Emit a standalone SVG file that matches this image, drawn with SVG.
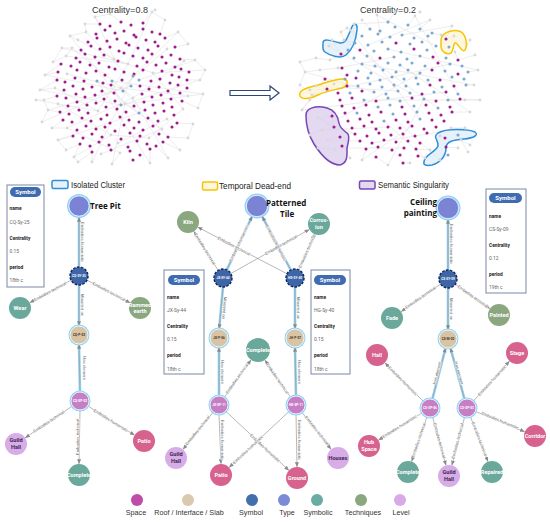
<svg xmlns="http://www.w3.org/2000/svg" width="550" height="522" viewBox="0 0 550 522">
<defs>
<style>
.ttl{font-family:"Liberation Sans",Arial,sans-serif;font-size:9px;fill:#333;text-anchor:middle}
.gl{stroke:#e0e0e0;stroke-width:.6;fill:none}
.dm{stroke:#a01c8c;stroke-width:3.1;stroke-linecap:round;fill:none}
.dg{stroke:#d8d8d8;stroke-width:2.8;stroke-linecap:round;fill:none}
.db{stroke:#7ea8d4;stroke-width:3.1;stroke-linecap:round;fill:none}
.bb{fill:#d6e7f6;fill-opacity:.6;stroke:#2f8fd8;stroke-width:1.5}
.by{fill:#fdf2cc;fill-opacity:.6;stroke:#f7c400;stroke-width:1.5}
.bp{fill:#dccfed;fill-opacity:.8;stroke:#7a45b5;stroke-width:1.5}
.lg{font-family:"Liberation Sans",Arial,sans-serif;font-size:8.5px;fill:#222}
.e{stroke:#9a9a9a;stroke-width:.7;fill:none;marker-end:url(#ah)}
.hl{stroke:#92d2f3;stroke-width:2.6;fill:none}
.el{font-family:"Liberation Sans",Arial,sans-serif;font-size:4.2px;fill:#666;text-anchor:middle;paint-order:stroke;stroke:#fff;stroke-width:.8}
.ring{fill:#8fd3f5}
.nt{font-family:Roboto,"Liberation Sans",sans-serif;font-weight:bold;font-size:5.6px;fill:#fff;text-anchor:middle}
.ntd{font-family:Roboto,"Liberation Sans",sans-serif;font-weight:bold;font-size:5.6px;fill:#3a2a48;text-anchor:middle}
.id{font-family:Roboto,"Liberation Sans",sans-serif;font-weight:bold;font-size:3.1px;fill:#fff;text-anchor:middle}
.idd{font-family:Roboto,"Liberation Sans",sans-serif;font-weight:bold;font-size:3.1px;fill:#3a3020;text-anchor:middle}
.big{font-family:"Open Sans","Liberation Sans",sans-serif;font-weight:bold;font-size:8px;fill:#111}
.type{fill:#7b84d4;stroke:#fff;stroke-width:.8}
.sym{fill:#3d65a8;stroke:#10255a;stroke-width:1.4;stroke-dasharray:2.6 1.4}
.roof{fill:#d8c3a4;stroke:#fff;stroke-width:.8}
.sp{fill:#c67fc4;stroke:#fff;stroke-width:.8}
.pink{fill:#d6628d}
.teal{fill:#6aa89b}
.grn{fill:#8aa77f}
.lav{fill:#d8abe9}
.ib{fill:#fff;stroke:#7b87a6;stroke-width:1}
.pill{fill:#3f6cb1}
.pt{font-family:Roboto,"Liberation Sans",sans-serif;font-size:6px;font-weight:bold;fill:#fff;text-anchor:middle}
.ik{font-family:Roboto,"Liberation Sans",sans-serif;font-size:4.8px;font-weight:bold;fill:#222}
.iv{font-family:Roboto,"Liberation Sans",sans-serif;font-size:4.9px;fill:#666}
.bl{font-family:"Liberation Sans",Arial,sans-serif;font-size:7.2px;fill:#333;text-anchor:middle}
</style>
<marker id="ah" viewBox="0 0 6 5" refX="6" refY="2.5" markerWidth="5" markerHeight="4" markerUnits="userSpaceOnUse" orient="auto"><path d="M0,0L6,2.5L0,5z" fill="#8a8a8a"/></marker>
</defs>
<rect width="550" height="522" fill="#fff"/>

<g id="scatter-left">
<text class="ttl" x="120" y="13">Centrality=0.8</text>
<path class="gl" d="M40 90L57 80M40 90L55 88M45 75L61 64M45 75L58 72M48 110L60 112M48 110L44 100M52 128L67 128M52 128L63 120M58 140L73 136M58 140L66 150M62 48L72 48M62 48L53 62M53 62L66 56M66 150L80 144M70 36L86 32M70 36L78 40M78 162L92 152M78 162L74 157M85 24L100 24M85 24L86 32M95 17L110 14M95 17L100 24M110 14L121 22M152 12L143 23M152 12L165 20M165 20L160 34M178 32L165 38M178 32L188 44M188 44L175 47M195 60L180 59M195 60L205 70M200 80L187 80M200 80L205 70M203 94L188 96M198 108L182 101M198 108L203 94M193 124L177 123M188 138L168 137M188 138L193 124M180 150L163 142M168 158L156 146M150 163L150 149M112 164L120 153M92 162L92 152M74 157L80 144M44 100L57 96M42 122L48 110M36 100L44 100M86 32L124 72M72 48L134 98M167 49L121 88M66 56L128 64M114 59L153 73M184 61L133 98M67 74L121 88M55 88L98 111M188 96L125 104M58 104L111 135M183 109L149 138M167 119L118 143M162 129L101 154M67 128L120 153M128 64L98 111M153 73L183 109M78 40L114 59M121 88L188 96M133 98L67 128M125 104L162 129M111 135L149 138M72 48L66 56M97 81L139 113M112 81L121 105M133 76L123 91M62 48L128 64M36 100L98 111M205 70L153 73M95 17L114 59M152 12L128 64M112 164L125 104M168 158L133 98M42 122L121 88M200 80L121 105M74 157L111 135M178 32L133 76M40 90L121 105M45 75L123 91M48 110L131 86M203 94L112 81M195 60L139 80M92 162L133 76M150 163L97 81M58 140L139 113M180 150L121 88M70 36L125 104"/>
<path class="dg" d="M86 32h0M78 40h0M72 48h0M167 49h0M66 56h0M114 59h0M184 61h0M128 64h0M67 74h0M153 73h0M55 88h0M121 88h0M188 96h0M133 98h0M58 104h0M125 104h0M183 109h0M98 111h0M167 119h0M162 129h0M67 128h0M111 135h0M149 138h0M118 143h0M120 153h0M101 154h0M40 90h0M45 75h0M48 110h0M52 128h0M58 140h0M62 48h0M66 150h0M70 36h0M78 162h0M85 24h0M95 17h0M110 14h0M152 12h0M165 20h0M178 32h0M188 44h0M195 60h0M200 80h0M203 94h0M198 108h0M193 124h0M188 138h0M180 150h0M168 158h0M150 163h0M112 164h0M92 162h0M74 157h0M44 100h0M42 122h0M53 62h0M36 100h0M205 70h0M155 10h0"/>
<path class="dm" d="M100 24h0M110 26h0M121 22h0M131 25h0M143 23h0M96 34h0M105 30h0M115 33h0M124 31h0M134 35h0M143 29h0M152 32h0M160 34h0M88 42h0M97 38h0M107 41h0M117 39h0M126 43h0M136 37h0M146 40h0M155 42h0M165 38h0M81 50h0M91 46h0M100 49h0M110 47h0M119 51h0M129 45h0M138 48h0M148 50h0M158 46h0M175 47h0M76 58h0M85 54h0M95 57h0M104 55h0M124 53h0M133 56h0M143 58h0M152 54h0M162 57h0M171 55h0M180 59h0M61 64h0M71 66h0M80 62h0M90 65h0M99 63h0M109 67h0M118 61h0M137 66h0M147 62h0M156 65h0M166 63h0M175 67h0M58 72h0M77 70h0M86 73h0M96 71h0M105 75h0M115 69h0M124 72h0M134 74h0M143 70h0M162 71h0M172 75h0M181 69h0M189 72h0M57 80h0M65 82h0M75 78h0M84 81h0M103 83h0M122 80h0M151 81h0M160 79h0M170 83h0M179 77h0M187 80h0M64 90h0M73 86h0M83 89h0M92 87h0M102 91h0M111 85h0M140 86h0M149 89h0M159 87h0M168 91h0M178 85h0M187 88h0M57 96h0M66 98h0M76 94h0M85 97h0M95 95h0M104 99h0M114 93h0M142 94h0M152 97h0M161 95h0M171 99h0M180 93h0M68 106h0M77 102h0M87 105h0M96 103h0M106 107h0M115 101h0M134 106h0M144 102h0M153 105h0M163 103h0M172 107h0M182 101h0M60 112h0M69 114h0M79 110h0M88 113h0M107 115h0M117 109h0M126 112h0M145 110h0M155 113h0M164 111h0M174 115h0M63 120h0M72 122h0M82 118h0M91 121h0M101 119h0M110 123h0M120 117h0M129 120h0M139 122h0M148 118h0M158 121h0M177 123h0M77 130h0M86 126h0M96 129h0M105 127h0M115 131h0M124 125h0M134 128h0M143 130h0M153 126h0M172 127h0M73 136h0M83 138h0M92 134h0M102 137h0M121 139h0M130 133h0M140 136h0M159 134h0M168 137h0M80 144h0M90 146h0M99 142h0M109 145h0M128 147h0M137 141h0M147 144h0M156 146h0M163 142h0M92 152h0M111 150h0M130 151h0M140 155h0M150 149h0M133 160h0"/>
<path class="db" d="M97 81h0M112 81h0M133 76h0M139 80h0M123 91h0M131 86h0M121 105h0M139 113h0"/>
</g>

<g id="transition-arrow">
<path d="M230 90.5L270 90.5L270 86L279 93L270 100L270 95.5L230 95.5Z" fill="#fff" stroke="#2c4776" stroke-width="1.2"/>
</g>

<g id="scatter-right">
<text class="ttl" x="388" y="13">Centrality=0.2</text>
<path class="gl" d="M300 62L316 58M300 62L305 72M305 72L320 70M312 95L300 85M312 95L327 89M316 58L330 60M322 130L310 135M322 130L334 127M330 60L341 54M344 40L355 43M344 40L341 32M350 30L362 36M350 30L354 24M362 20L370 29M377 15L380 31M395 12L388 22M415 16L408 25M430 20L420 29M452 26L446 39M470 40L466 48M475 55L458 60M478 70L468 72M474 85L466 85M480 100L460 99M470 112L452 112M465 128L451 128M458 148L446 147M440 160L448 155M425 158L418 156M410 163L403 163M388 165L376 157M362 160L366 149M350 158L342 146M318 148L335 150M310 135L318 148M302 110L310 100M302 110L312 95M300 85L305 72M320 70L338 68M338 68L342 68M329 46L344 40M310 100L325 79M465 100L448 100M461 140L458 135M430 150L416 149M470 145L461 140M455 52L458 60M441 35L432 33M354 24L388 22M338 68L394 57M316 86L398 91M329 46L410 93M305 72L374 92M322 130L388 127M318 148L404 148M362 160L412 126M388 165L424 99M425 158L384 121M470 112L400 65M474 85L362 64M478 70L388 49M452 26L402 35M430 20L368 45M415 16L458 94M377 15L436 46M350 30L420 119M344 40L438 108M312 95L450 64M302 110L446 92M480 100L364 100M465 128L372 143M440 160L396 120M310 135L420 73M318 118L332 116M318 118L334 127M328 140L340 137M328 140L342 146M318 118L355 134M328 140L360 141M310 90L327 89M334 84L325 79M332 40L341 54M347 28L341 32M454 36L446 39M468 152L458 135M440 136L445 138"/>
<path class="bb" d="M323 44C322 38 330 40 340 43C346 44 348 36 351 29C353 23 358 22 357 30C356 40 352 50 346 55C341 59 330 56 325 52C322 50 323 47 323 44Z"/>
<path class="by" d="M441 40C441 33 452 29 459 31C466 33 468 45 465 50C462 53 459 45 456 43C453 42 454 50 451 53C447 55 441 52 441 46Z"/>
<path class="by" d="M300 96C298 90 306 88 318 85C328 82 338 78 344 79C349 80 348 86 342 88C334 90 326 91 318 95C310 99 302 100 300 96Z"/>
<path class="bp" d="M306 116C305 108 316 105 327 108C335 110 338 117 339 123C340 129 345 131 348 134C350 138 348 143 347 148C347 155 348 163 340 165C330 165 321 155 314 144C308 134 306 124 306 116Z"/>
<path class="bb" d="M424 162C424 155 436 152 438 146C439 140 432 137 438 133C446 128 468 129 475 132C479 135 474 138 464 139C454 140 446 141 446 148C446 156 440 163 432 165C426 166 423 165 424 162Z"/>
<path class="dg" d="M300 62h0M305 72h0M312 95h0M316 58h0M322 130h0M330 60h0M344 40h0M350 30h0M362 20h0M377 15h0M395 12h0M415 16h0M430 20h0M452 26h0M470 40h0M475 55h0M478 70h0M474 85h0M480 100h0M470 112h0M465 128h0M458 148h0M440 160h0M425 158h0M410 163h0M388 165h0M362 160h0M350 158h0M318 148h0M310 135h0M302 110h0M320 70h0M338 68h0M354 24h0M341 32h0M329 46h0M441 35h0M455 52h0M465 100h0M461 140h0M430 150h0M310 100h0M316 86h0M335 150h0M300 85h0M470 145h0M451 128h0M332 40h0M347 28h0M454 36h0M310 90h0M334 84h0M318 118h0M328 140h0M468 152h0M440 136h0M420 12h0"/>
<path class="db" d="M388 22h0M408 25h0M370 29h0M380 31h0M395 27h0M420 29h0M432 33h0M362 36h0M378 34h0M390 37h0M402 35h0M414 38h0M428 36h0M355 43h0M368 45h0M382 42h0M410 44h0M422 42h0M436 46h0M449 47h0M348 50h0M374 51h0M388 49h0M401 52h0M427 50h0M354 58h0M367 56h0M394 57h0M407 59h0M420 56h0M446 58h0M362 64h0M375 66h0M388 63h0M400 65h0M412 63h0M425 66h0M450 64h0M462 66h0M358 71h0M371 73h0M383 70h0M396 72h0M408 70h0M420 73h0M445 71h0M468 72h0M345 79h0M368 78h0M380 80h0M392 77h0M404 79h0M416 78h0M428 80h0M452 77h0M464 79h0M358 86h0M370 84h0M382 87h0M394 85h0M406 86h0M418 84h0M442 87h0M466 85h0M350 93h0M374 92h0M386 94h0M398 91h0M410 93h0M434 92h0M458 94h0M364 100h0M388 98h0M400 101h0M424 99h0M448 100h0M378 107h0M390 105h0M414 106h0M438 108h0M357 113h0M393 114h0M417 112h0M384 121h0M420 119h0M458 135h0M448 155h0"/>
<path class="dm" d="M396 43h0M446 39h0M360 50h0M414 49h0M341 54h0M380 58h0M433 57h0M458 60h0M342 68h0M438 63h0M347 75h0M432 70h0M458 74h0M325 79h0M327 89h0M356 78h0M440 80h0M347 86h0M430 85h0M454 86h0M338 93h0M362 91h0M422 94h0M446 92h0M340 100h0M352 98h0M376 101h0M412 98h0M436 101h0M460 99h0M342 106h0M354 108h0M366 105h0M402 107h0M426 105h0M450 107h0M332 116h0M345 113h0M369 115h0M381 112h0M405 114h0M429 113h0M441 115h0M452 112h0M348 121h0M360 119h0M372 122h0M396 120h0M408 122h0M432 120h0M444 121h0M334 127h0M352 128h0M364 126h0M376 129h0M388 127h0M400 128h0M412 126h0M424 129h0M436 127h0M340 137h0M355 134h0M367 136h0M379 133h0M391 135h0M403 134h0M415 136h0M427 133h0M445 138h0M342 146h0M360 141h0M372 143h0M384 140h0M396 142h0M408 141h0M420 143h0M446 147h0M366 149h0M378 147h0M392 150h0M404 148h0M416 149h0M376 157h0M400 155h0M418 156h0M403 163h0"/>
</g>

<g id="pattern-legend">
<rect x="52" y="180.5" width="16" height="8" rx="1.5" class="bb"/>
<text class="lg" x="71" y="188" textLength="54" lengthAdjust="spacingAndGlyphs">Isolated Cluster</text>
<rect x="202.5" y="182" width="15" height="8" rx="1.5" class="by"/>
<text class="lg" x="219" y="189" textLength="72" lengthAdjust="spacingAndGlyphs">Temporal Dead-end</text>
<rect x="359.5" y="181" width="15.5" height="8" rx="1.5" class="bp"/>
<text class="lg" x="378" y="188" textLength="71" lengthAdjust="spacingAndGlyphs">Semantic Singularity</text>
</g>

<g id="connectors">
<line class="hl" x1="79" y1="266" x2="79" y2="218"/>
<line class="e" x1="79" y1="267" x2="79" y2="217"/>
<text class="el" transform="translate(82.5 242) rotate(90)" dy="1.5">Embodies humanistic</text>
<line class="e" x1="71" y1="280.3" x2="29.7" y2="302.7"/>
<text class="el" transform="translate(50 291.5) rotate(-28.5)" dy="1.5">Embodies technical</text>
<line class="e" x1="87" y1="280.2" x2="130.3" y2="302.9"/>
<text class="el" transform="translate(109 291.5) rotate(27.7)" dy="1.5">Embodies technical</text>
<line class="hl" x1="79" y1="285" x2="79" y2="325"/>
<line class="e" x1="79" y1="285" x2="79" y2="326"/>
<text class="el" transform="translate(82.5 305) rotate(90)" dy="1.5">Mounted on</text>
<line class="hl" x1="80" y1="392" x2="79" y2="345"/>
<line class="e" x1="80" y1="392" x2="79" y2="344"/>
<text class="el" transform="translate(84 368) rotate(90)" dy="1.5">Has element</text>
<line class="e" x1="72.5" y1="406" x2="25.1" y2="437.9"/>
<text class="el" transform="translate(48.8 421.5) rotate(-33.9)" dy="1.5">Embodies technical</text>
<line class="e" x1="80" y1="410" x2="79" y2="464"/>
<text class="el" transform="translate(77 437) rotate(-90)" dy="1.5">Embodies technical</text>
<line class="e" x1="87.6" y1="405.8" x2="134.7" y2="435.2"/>
<text class="el" transform="translate(111 420.5) rotate(32)" dy="1.5">Embodies humanistic</text>

<line class="hl" x1="226.8" y1="269.9" x2="252.3" y2="216"/>
<line class="e" x1="226.8" y1="269.9" x2="252.3" y2="216"/>
<text class="el" transform="translate(239 243) rotate(-64.7)" dy="1.5">Embodies humanistic</text>
<line class="hl" x1="290.8" y1="270" x2="262.1" y2="216.3"/>
<line class="e" x1="290.8" y1="270" x2="262.1" y2="216.3"/>
<text class="el" transform="translate(276 243) rotate(62.2)" dy="1.5">Embodies humanistic</text>
<line class="e" x1="218.2" y1="270.4" x2="193.8" y2="231.3"/>
<text class="el" transform="translate(205 249) rotate(58)" dy="1.5">Embodies technical</text>
<line class="e" x1="298.7" y1="269.8" x2="314.5" y2="234"/>
<text class="el" transform="translate(307 251) rotate(-66)" dy="1.5">Embodies technical</text>
<line class="e" x1="230.8" y1="273.6" x2="309.4" y2="229.4"/>
<text class="el" transform="translate(281 245) rotate(-29.4)" dy="1.5">Embodies technical</text>
<line class="e" x1="287" y1="273.8" x2="197.7" y2="227.1"/>
<text class="el" transform="translate(234 246) rotate(27.6)" dy="1.5">Embodies technical</text>
<line class="hl" x1="223" y1="287" x2="219.2" y2="328"/>
<line class="e" x1="223" y1="287" x2="219.2" y2="329"/>
<text class="el" transform="translate(224.5 308) rotate(95)" dy="1.5">Mounted on</text>
<line class="hl" x1="295" y1="287" x2="295" y2="328"/>
<line class="e" x1="295" y1="287" x2="295" y2="329"/>
<text class="el" transform="translate(298.5 308) rotate(90)" dy="1.5">Mounted on</text>
<line class="hl" x1="219" y1="396" x2="219" y2="348"/>
<line class="e" x1="219" y1="396" x2="219" y2="347"/>
<text class="el" transform="translate(222.5 372) rotate(90)" dy="1.5">Has element</text>
<line class="hl" x1="296" y1="396" x2="295" y2="348"/>
<line class="e" x1="296" y1="396" x2="295" y2="347"/>
<text class="el" transform="translate(299 372) rotate(90)" dy="1.5">Has element</text>
<line class="e" x1="224.2" y1="397.7" x2="251.1" y2="359.8"/>
<text class="el" transform="translate(237 378.5) rotate(-54.7)" dy="1.5">Embodies technical</text>
<line class="e" x1="290.9" y1="397.6" x2="264.8" y2="359.9"/>
<text class="el" transform="translate(277.5 378.5) rotate(55.4)" dy="1.5">Embodies technical</text>
<line class="e" x1="213.3" y1="412" x2="182.9" y2="449.5"/>
<text class="el" transform="translate(197.5 430.5) rotate(-51)" dy="1.5">Embodies technical</text>
<line class="e" x1="219" y1="414" x2="221" y2="464"/>
<text class="el" transform="translate(222.5 440) rotate(90)" dy="1.5">Embodies humanistic</text>
<line class="e" x1="225.6" y1="411.1" x2="289" y2="470.5"/>
<text class="el" transform="translate(265 448) rotate(43)" dy="1.5">Embodies humanistic</text>
<line class="e" x1="289.4" y1="411.1" x2="229" y2="467.5"/>
<text class="el" transform="translate(248 449.5) rotate(-43)" dy="1.5">Embodies humanistic</text>
<line class="e" x1="296" y1="414" x2="297" y2="467"/>
<text class="el" transform="translate(299.5 440) rotate(90)" dy="1.5">Embodies humanistic</text>
<line class="e" x1="301.6" y1="412" x2="331.2" y2="449.4"/>
<text class="el" transform="translate(317 430.5) rotate(51.6)" dy="1.5">Embodies technical</text>

<line class="hl" x1="448" y1="270" x2="448" y2="220"/>
<line class="e" x1="448" y1="270" x2="448" y2="219"/>
<text class="el" transform="translate(451.5 244) rotate(90)" dy="1.5">Embodies humanistic</text>
<line class="e" x1="440.6" y1="284.1" x2="401" y2="311.7"/>
<text class="el" transform="translate(420.5 297.5) rotate(-34.9)" dy="1.5">Embodies technical</text>
<line class="e" x1="455.4" y1="284.2" x2="490" y2="308.7"/>
<text class="el" transform="translate(473 296.5) rotate(35.2)" dy="1.5">Embodies technical</text>
<line class="hl" x1="448" y1="288" x2="448" y2="329"/>
<line class="e" x1="448" y1="288" x2="448" y2="330"/>
<text class="el" transform="translate(451.5 309) rotate(90)" dy="1.5">Mounted on</text>
<line class="hl" x1="432.3" y1="399.3" x2="445.5" y2="348.5"/>
<line class="e" x1="432.3" y1="399.3" x2="445.7" y2="347.7"/>
<text class="el" transform="translate(437 373) rotate(-75.4)" dy="1.5">Has element</text>
<line class="hl" x1="464.6" y1="399.3" x2="450.6" y2="348.5"/>
<line class="e" x1="464.6" y1="399.3" x2="450.4" y2="347.7"/>
<text class="el" transform="translate(459 373) rotate(74.6)" dy="1.5">Has element</text>
<line class="e" x1="423.6" y1="401.6" x2="384.8" y2="362.8"/>
<text class="el" transform="translate(403 381) rotate(45)" dy="1.5">Embodies humanistic</text>
<line class="e" x1="422.4" y1="412.8" x2="378.3" y2="440.2"/>
<text class="el" transform="translate(399.5 426.5) rotate(-31.9)" dy="1.5">Embodies humanistic</text>
<line class="e" x1="427.1" y1="416.5" x2="411.6" y2="461.6"/>
<text class="el" transform="translate(418.5 440) rotate(-71)" dy="1.5">Embodies technical</text>
<line class="e" x1="432.4" y1="416.7" x2="446" y2="465.4"/>
<text class="el" transform="translate(439.5 440.5) rotate(74.4)" dy="1.5">Embodies technical</text>
<line class="e" x1="464.7" y1="416.7" x2="451.8" y2="465.4"/>
<text class="el" transform="translate(457.5 441) rotate(-75.2)" dy="1.5">Embodies technical</text>
<line class="e" x1="473.1" y1="401.3" x2="509.6" y2="361.1"/>
<text class="el" transform="translate(492 380.5) rotate(-47.7)" dy="1.5">Embodies humanistic</text>
<line class="e" x1="475.3" y1="411.4" x2="524.8" y2="431.8"/>
<text class="el" transform="translate(500 420.5) rotate(22.4)" dy="1.5">Embodies humanistic</text>
<line class="e" x1="470.3" y1="416.4" x2="488" y2="461.7"/>
<text class="el" transform="translate(479.5 439) rotate(68.7)" dy="1.5">Embodies technical</text>
</g>

<g id="n-treepit"><circle cx="79" cy="206" r="12" class="ring"/><circle cx="79" cy="206" r="10.2" class="type"/><text class="big" x="90" y="209">Tree Pit</text></g>
<g id="n-cqsy25"><circle cx="79" cy="276" r="9" class="sym"/><text class="id" x="79" y="277.2">CQ-SY-25</text></g>
<g id="n-wear"><circle cx="20" cy="308" r="11" class="teal"/><text class="nt" x="20" y="310">Wear</text></g>
<g id="n-rammed"><circle cx="140" cy="308" r="11" class="grn"/><text class="nt" x="140" y="306.5">Rammed</text><text class="nt" x="140" y="313">earth</text></g>
<g id="n-cqp02"><circle cx="79" cy="335" r="10.5" class="ring"/><circle cx="79" cy="335" r="9" class="roof"/><text class="idd" x="79" y="336.2">CQ-P-02</text></g>
<g id="n-cqsp02"><circle cx="80" cy="401" r="10.5" class="ring"/><circle cx="80" cy="401" r="9" class="sp"/><text class="id" x="80" y="402.2">CQ-SP-02</text></g>
<g id="n-guild1"><circle cx="16" cy="444" r="11" class="lav"/><text class="ntd" x="16" y="442">Guild</text><text class="ntd" x="16" y="449">Hall</text></g>
<g id="n-patio1"><circle cx="144" cy="441" r="11" class="pink"/><text class="nt" x="144" y="443">Patio</text></g>
<g id="n-complete1"><circle cx="79" cy="475" r="11" class="teal"/><text class="nt" x="79" y="477">Complete</text></g>
<g id="info-cq"><rect x="7" y="185" width="37" height="102" class="ib"/><rect x="10" y="187" width="31" height="10" rx="5" class="pill"/><text class="pt" x="25.5" y="194.2">Symbol</text><text class="ik" x="9.5" y="210">name</text><text class="iv" x="9.5" y="224">CQ-Sy-25</text><text class="ik" x="9.5" y="240">Centrality</text><text class="iv" x="9.5" y="253">0.15</text><text class="ik" x="9.5" y="269">period</text><text class="iv" x="9.5" y="282">18th c</text></g>

<g id="n-patterned"><circle cx="257" cy="206" r="12.5" class="ring"/><circle cx="257" cy="206" r="10.7" class="type"/><text class="big" x="266" y="206">Patterned</text><text class="big" x="280" y="217">Tile</text></g>
<g id="n-kiln"><circle cx="188" cy="222" r="11" class="grn"/><text class="nt" x="188" y="224">Kiln</text></g>
<g id="n-corrosion"><circle cx="319" cy="224" r="11" class="teal"/><text class="nt" x="319" y="222">Corros-</text><text class="nt" x="319" y="229">ion</text></g>
<g id="n-jxsy44"><circle cx="223" cy="278" r="9" class="sym"/><text class="id" x="223" y="279.2">JX-SY-44</text></g>
<g id="n-hgsy40"><circle cx="295" cy="278" r="9" class="sym"/><text class="id" x="295" y="279.2">HG-SY-40</text></g>
<g id="n-jxp06"><circle cx="219" cy="338" r="10.5" class="ring"/><circle cx="219" cy="338" r="9" class="roof"/><text class="idd" x="219" y="339.2">JX-P-06</text></g>
<g id="n-jhp07"><circle cx="295" cy="338" r="10.5" class="ring"/><circle cx="295" cy="338" r="9" class="roof"/><text class="idd" x="295" y="339.2">JH-P-07</text></g>
<g id="n-complete2"><circle cx="258" cy="350" r="12" class="teal"/><text class="nt" x="258" y="352">Complete</text></g>
<g id="n-jxsp11"><circle cx="219" cy="405" r="10.5" class="ring"/><circle cx="219" cy="405" r="9" class="sp"/><text class="id" x="219" y="406.2">JX-SP-11</text></g>
<g id="n-hgsp11"><circle cx="296" cy="405" r="10.5" class="ring"/><circle cx="296" cy="405" r="9" class="sp"/><text class="id" x="296" y="406.2">HG-SP-11</text></g>
<g id="n-guild2"><circle cx="176" cy="458" r="11" class="lav"/><text class="ntd" x="176" y="456">Guild</text><text class="ntd" x="176" y="463">Hall</text></g>
<g id="n-patio2"><circle cx="221" cy="475" r="11" class="pink"/><text class="nt" x="221" y="477">Patio</text></g>
<g id="n-ground"><circle cx="297" cy="478" r="11" class="pink"/><text class="nt" x="297" y="480">Ground</text></g>
<g id="n-houses"><circle cx="338" cy="458" r="11" class="lav"/><text class="ntd" x="338" y="460">Houses</text></g>
<g id="info-jx"><rect x="164" y="270" width="40" height="104" class="ib"/><rect x="168" y="275" width="32" height="10" rx="5" class="pill"/><text class="pt" x="184" y="282.2">Symbol</text><text class="ik" x="167" y="299">name</text><text class="iv" x="167" y="312">JX-Sy-44</text><text class="ik" x="167" y="328">Centrality</text><text class="iv" x="167" y="341">0.15</text><text class="ik" x="167" y="357">period</text><text class="iv" x="167" y="371">18th c</text></g>
<g id="info-hg"><rect x="311" y="270" width="39" height="104" class="ib"/><rect x="314" y="275" width="32" height="10" rx="5" class="pill"/><text class="pt" x="330" y="282.2">Symbol</text><text class="ik" x="314" y="299">name</text><text class="iv" x="314" y="312">HG-Sy-40</text><text class="ik" x="314" y="328">Centrality</text><text class="iv" x="314" y="341">0.15</text><text class="ik" x="314" y="357">period</text><text class="iv" x="314" y="371">18th c</text></g>

<g id="n-ceiling"><circle cx="448" cy="208" r="12.5" class="ring"/><circle cx="448" cy="208" r="10.7" class="type"/><text class="big" x="437" y="205" text-anchor="end">Ceiling</text><text class="big" x="437" y="216" text-anchor="end">painting</text></g>
<g id="n-cssy09"><circle cx="448" cy="279" r="9" class="sym"/><text class="id" x="448" y="280.2">CS-SY-09</text></g>
<g id="n-fade"><circle cx="392" cy="318" r="11" class="teal"/><text class="nt" x="392" y="320">Fade</text></g>
<g id="n-painted"><circle cx="499" cy="315" r="11" class="grn"/><text class="nt" x="499" y="317">Painted</text></g>
<g id="n-csm02"><circle cx="448" cy="339" r="10.5" class="ring"/><circle cx="448" cy="339" r="9" class="roof"/><text class="idd" x="448" y="340.2">CS-M-02</text></g>
<g id="n-hall"><circle cx="377" cy="355" r="11" class="pink"/><text class="nt" x="377" y="357">Hall</text></g>
<g id="n-stage"><circle cx="517" cy="353" r="11" class="pink"/><text class="nt" x="517" y="355">Stage</text></g>
<g id="n-cssp06"><circle cx="430" cy="408" r="10.5" class="ring"/><circle cx="430" cy="408" r="9" class="sp"/><text class="id" x="430" y="409.2">CS-SP-06</text></g>
<g id="n-cssp03"><circle cx="467" cy="408" r="10.5" class="ring"/><circle cx="467" cy="408" r="9" class="sp"/><text class="id" x="467" y="409.2">CS-SP-03</text></g>
<g id="n-hub"><circle cx="369" cy="446" r="11" class="pink"/><text class="nt" x="369" y="444">Hub</text><text class="nt" x="369" y="451">Space</text></g>
<g id="n-complete3"><circle cx="408" cy="472" r="11" class="teal"/><text class="nt" x="408" y="474">Complete</text></g>
<g id="n-guild3"><circle cx="449" cy="476" r="11" class="lav"/><text class="ntd" x="449" y="474">Guild</text><text class="ntd" x="449" y="481">Hall</text></g>
<g id="n-repaired"><circle cx="492" cy="472" r="11" class="teal"/><text class="nt" x="492" y="474">Repaired</text></g>
<g id="n-corridor"><circle cx="535" cy="436" r="11" class="pink"/><text class="nt" x="535" y="438">Corridor</text></g>
<g id="info-cs"><rect x="486" y="189" width="40" height="104" class="ib"/><rect x="489" y="193" width="33" height="10" rx="5" class="pill"/><text class="pt" x="505.5" y="200.2">Symbol</text><text class="ik" x="489" y="218">name</text><text class="iv" x="489" y="231">CS-Sy-09</text><text class="ik" x="489" y="247">Centrality</text><text class="iv" x="489" y="260">0.12</text><text class="ik" x="489" y="276">period</text><text class="iv" x="489" y="289">19th c</text></g>

<g id="node-legend">
<circle cx="137" cy="500" r="6" fill="#c04ca9"/><text class="bl" x="136" y="515">Space</text>
<circle cx="188" cy="500" r="6" fill="#dbc8b0"/><text class="bl" x="189" y="515">Roof / Interface / Slab</text>
<circle cx="252" cy="500" r="6" fill="#4170ad"/><text class="bl" x="251" y="515">Symbol</text>
<circle cx="284" cy="500" r="6" fill="#7b8bd8"/><text class="bl" x="287" y="515">Type</text>
<circle cx="317" cy="500" r="6" fill="#6aaca1"/><text class="bl" x="318" y="515">Symbolic</text>
<circle cx="361" cy="500" r="6" fill="#89a880"/><text class="bl" x="363" y="515">Techniques</text>
<circle cx="400" cy="500" r="6" fill="#d9aae9"/><text class="bl" x="401" y="515">Level</text>
</g>
</svg>
